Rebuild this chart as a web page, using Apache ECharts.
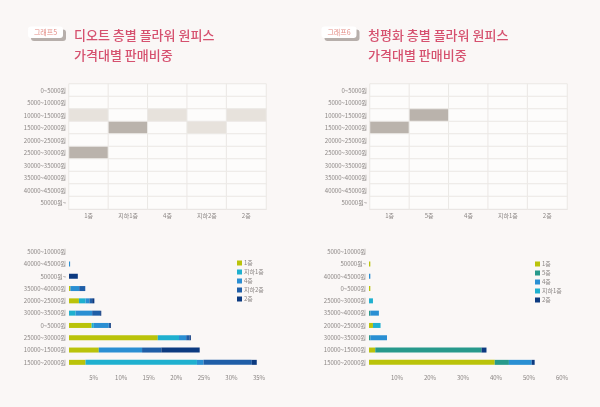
<!DOCTYPE html>
<html><head><meta charset="utf-8">
<script src="https://cdn.jsdelivr.net/npm/echarts@6/dist/echarts.min.js"></script>
<style>html,body{margin:0;padding:0;background:#f8f5f4;}#c{width:600px;height:407px;}</style>
</head><body><div id="c"></div>
<script>
// ---- Data ----
const priceBands = ['0~5000원','5000~10000원','10000~15000원','15000~20000원','20000~25000원','25000~30000원','30000~35000원','35000~40000원','40000~45000원','50000원~'];
const dioteFloors = ['1층','지하1층','4층','지하2층','2층'];
// level per row (price band) and column (floor): 0 none, 1 light, 2 dark
const dioteHeat = [
  [0,0,0,0,0],[0,0,0,0,0],[1,0,1,0,1],[0,2,0,1,0],[0,0,0,0,0],
  [2,0,0,0,0],[0,0,0,0,0],[0,0,0,0,0],[0,0,0,0,0],[0,0,0,0,0]
];
const cphFloors = ['1층','5층','4층','지하1층','2층'];
const cphHeat = [
  [0,0,0,0,0],[0,0,0,0,0],[0,2,0,0,0],[2,0,0,0,0],[0,0,0,0,0],
  [0,0,0,0,0],[0,0,0,0,0],[0,0,0,0,0],[0,0,0,0,0],[0,0,0,0,0]
];

const dioteBands = ['5000~10000원','40000~45000원','50000원~','35000~40000원','20000~25000원','30000~35000원','0~5000원','25000~30000원','10000~15000원','15000~20000원'];
const diote1F  = [0, 0,   0,   0.25, 1.8, 0,    4.1,  16.1, 5.4,  3.0];
const dioteB1  = [0, 0,   0,   0,    1.2, 1.2,  0.4,  3.85, 0,    20.2];
const diote4F  = [0, 0.2, 0,   1.6,  0.7, 3.0,  2.7,  1.3,  7.85, 1.2];
const dioteB2  = [0, 0,   0,   1.1,  0.5, 1.45, 0.25, 0.6,  3.5,  8.75];
const diote2F  = [0, 0,   1.6, 0,    0.4, 0.2,  0.15, 0.25, 6.95, 0.9];
const dioteTicks = [0,5,10,15,20,25,30,35];

const cphBands = ['5000~10000원','50000원~','40000~45000원','0~5000원','25000~30000원','35000~40000원','20000~25000원','30000~35000원','10000~15000원','15000~20000원'];
const cph1F = [0, 0.4, 0,   0.4, 0,   0,   1.2, 0,    1.9,  38.1];
const cph5F = [0, 0,   0,   0,   0,   0.4, 0,   0.4,  32.2, 4.3];
const cph4F = [0, 0,   0.4, 0,   0,   2.6, 0,   5.05, 0,    6.9];
const cphB1 = [0, 0,   0,   0,   1.2, 0,   2.3, 0,    0,    0];
const cph2F = [0, 0,   0,   0,   0,   0,   0,   0,    1.5,  0.9];
const cphTicks = [0,10,20,30,40,50,60];

// ---- Build ----
const FONT = "'Noto Sans CJK KR', sans-serif";
const C = {'1층':'#bac30a','지하1층':'#1fb0cf','4층':'#2a8fd3','지하2층':'#1f5ea7','2층':'#0c3a80','5층':'#27998b'};

function heatData(m){const out=[];m.forEach((row,r)=>row.forEach((v,c)=>out.push([c,r,v])));return out;}

function heatGrid(left){return {left:left,top:84,width:197,height:125};}
function barGrid(left,w){return {left:left,top:245.5,width:w,height:123};}

const lbl = {fontFamily:FONT,fontSize:6,color:'#8a8583'};

const option = {
  backgroundColor:'#faf7f6',
  animation:false,
  textStyle:{fontFamily:FONT},
  title:[
    {text:'디오트 층별 플라워 원피스\n가격대별 판매비중',left:74,top:25,padding:0,textStyle:{fontFamily:FONT,fontSize:13,fontWeight:500,color:'#d6516f',lineHeight:20}},
    {text:'청평화 층별 플라워 원피스\n가격대별 판매비중',left:368,top:25,padding:0,textStyle:{fontFamily:FONT,fontSize:13,fontWeight:500,color:'#d6516f',lineHeight:20}}
  ],
  graphic:[
    {type:'rect',shape:{x:31,y:29.5,width:35,height:11.5,r:3},style:{fill:'#b7afab'}},
    {type:'rect',shape:{x:28,y:26.5,width:35,height:11.5,r:3},style:{fill:'#ffffff'}},
    {type:'text',x:45.5,y:32.5,style:{text:'그래프5',fontFamily:FONT,fontSize:7,fill:'#e48d86',align:'center',verticalAlign:'middle'}},
    {type:'rect',shape:{x:324.5,y:29.5,width:35,height:11.5,r:3},style:{fill:'#b7afab'}},
    {type:'rect',shape:{x:321.5,y:26.5,width:35,height:11.5,r:3},style:{fill:'#ffffff'}},
    {type:'text',x:339,y:32.5,style:{text:'그래프6',fontFamily:FONT,fontSize:7,fill:'#e48d86',align:'center',verticalAlign:'middle'}}
  ],
  grid:[heatGrid(69),heatGrid(370),barGrid(69,193),barGrid(369,198)],
  xAxis:[
    {gridIndex:0,type:'category',data:dioteFloors,axisLine:{lineStyle:{color:'#dedad7'}},axisTick:{show:false},axisLabel:Object.assign({margin:4},lbl),splitLine:{show:false}},
    {gridIndex:1,type:'category',data:cphFloors,axisLine:{lineStyle:{color:'#dedad7'}},axisTick:{show:false},axisLabel:Object.assign({margin:4},lbl),splitLine:{show:false}},
    {gridIndex:2,type:'value',min:dioteTicks[0],max:dioteTicks[dioteTicks.length-1],interval:dioteTicks[1]-dioteTicks[0],axisLine:{show:false},axisTick:{show:false},splitLine:{show:false},axisLabel:Object.assign({margin:6,showMinLabel:false,formatter:'{value}%',padding:[0,6,0,0]},lbl)},
    {gridIndex:3,type:'value',min:cphTicks[0],max:cphTicks[cphTicks.length-1],interval:cphTicks[1]-cphTicks[0],axisLine:{show:false},axisTick:{show:false},splitLine:{show:false},axisLabel:Object.assign({margin:6,showMinLabel:false,formatter:'{value}%',padding:[0,10,0,0]},lbl)}
  ],
  yAxis:[
    {gridIndex:0,type:'category',inverse:true,data:priceBands,axisLine:{lineStyle:{color:'#e4e0dd'}},axisTick:{show:false},axisLabel:Object.assign({margin:3},lbl)},
    {gridIndex:1,type:'category',inverse:true,data:priceBands,axisLine:{lineStyle:{color:'#e4e0dd'}},axisTick:{show:false},axisLabel:Object.assign({margin:3},lbl)},
    {gridIndex:2,type:'category',inverse:true,data:dioteBands,axisLine:{show:false},axisTick:{show:false},axisLabel:Object.assign({margin:3},lbl)},
    {gridIndex:3,type:'category',inverse:true,data:cphBands,axisLine:{show:false},axisTick:{show:false},axisLabel:Object.assign({margin:3},lbl)}
  ],
  visualMap:{type:'piecewise',show:false,seriesIndex:[0,1],dimension:2,pieces:[{value:0,color:'#fdfcfb'},{value:1,color:'#e7e2dc'},{value:2,color:'#bab3ac'}]},
  legend:[
    {orient:'vertical',left:232,top:255,itemWidth:5,itemHeight:5,itemGap:3,icon:'rect',textStyle:Object.assign({padding:[0,0,0,-3]},lbl),data:['1층','지하1층','4층','지하2층','2층']},
    {orient:'vertical',left:530,top:256,itemWidth:5,itemHeight:5,itemGap:3,icon:'rect',textStyle:Object.assign({padding:[0,0,0,-3]},lbl),data:['1층','5층','4층','지하1층','2층']}
  ],
  series:[
    {type:'heatmap',xAxisIndex:0,yAxisIndex:0,data:heatData(dioteHeat),itemStyle:{borderColor:'#ebe8e5',borderWidth:1}},
    {type:'heatmap',xAxisIndex:1,yAxisIndex:1,data:heatData(cphHeat),itemStyle:{borderColor:'#ebe8e5',borderWidth:1}},
    {name:'1층',type:'bar',stack:'d',xAxisIndex:2,yAxisIndex:2,barWidth:5,data:diote1F,itemStyle:{color:C['1층']}},
    {name:'지하1층',type:'bar',stack:'d',xAxisIndex:2,yAxisIndex:2,barWidth:5,data:dioteB1,itemStyle:{color:C['지하1층']}},
    {name:'4층',type:'bar',stack:'d',xAxisIndex:2,yAxisIndex:2,barWidth:5,data:diote4F,itemStyle:{color:C['4층']}},
    {name:'지하2층',type:'bar',stack:'d',xAxisIndex:2,yAxisIndex:2,barWidth:5,data:dioteB2,itemStyle:{color:C['지하2층']}},
    {name:'2층',type:'bar',stack:'d',xAxisIndex:2,yAxisIndex:2,barWidth:5,data:diote2F,itemStyle:{color:C['2층']}},
    {name:'1층',type:'bar',stack:'c',xAxisIndex:3,yAxisIndex:3,barWidth:5,data:cph1F,itemStyle:{color:C['1층']}},
    {name:'5층',type:'bar',stack:'c',xAxisIndex:3,yAxisIndex:3,barWidth:5,data:cph5F,itemStyle:{color:C['5층']}},
    {name:'4층',type:'bar',stack:'c',xAxisIndex:3,yAxisIndex:3,barWidth:5,data:cph4F,itemStyle:{color:C['4층']}},
    {name:'지하1층',type:'bar',stack:'c',xAxisIndex:3,yAxisIndex:3,barWidth:5,data:cphB1,itemStyle:{color:C['지하1층']}},
    {name:'2층',type:'bar',stack:'c',xAxisIndex:3,yAxisIndex:3,barWidth:5,data:cph2F,itemStyle:{color:C['2층']}}
  ]
};
const chart = echarts.init(document.getElementById('c'),null,{renderer:'canvas'});
chart.setOption(option);
</script></body></html>
